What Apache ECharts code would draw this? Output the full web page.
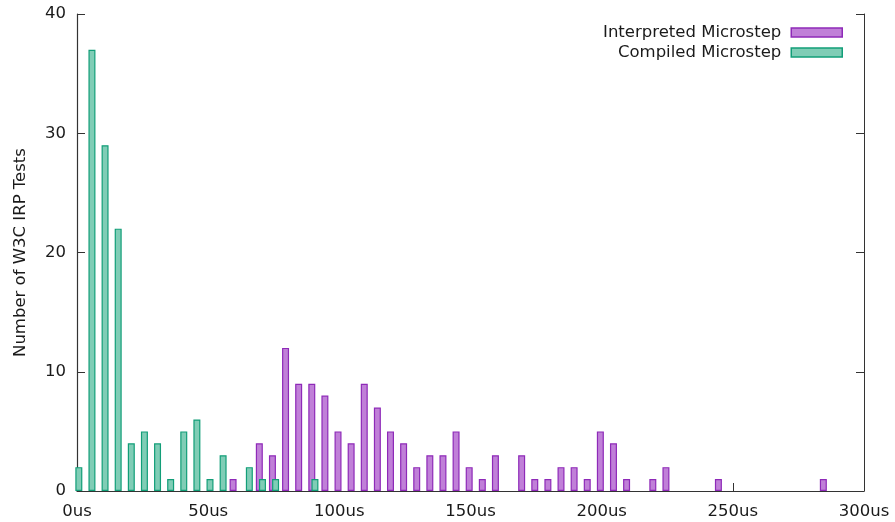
<!DOCTYPE html>
<html>
<head>
<meta charset="utf-8">
<script src="https://cdn.jsdelivr.net/npm/echarts@6/dist/echarts.min.js"></script>
<style>
  html, body { margin: 0; padding: 0; background: #fff; }
  #chart { width: 895px; height: 522px; }
</style>
</head>
<body>
<div id="chart"></div>
<script>
// Histogram bins (start of each 5us bucket)
const binStarts = [
  0, 5, 10, 15, 20, 25, 30, 35, 40, 45, 50, 55, 60, 65, 70, 75, 80, 85, 90, 95,
  100, 105, 110, 115, 120, 125, 130, 135, 140, 145, 150, 155, 160, 165, 170, 175, 180, 185, 190, 195,
  200, 205, 210, 215, 220, 225, 230, 235, 240, 245, 250, 255, 260, 265, 270, 275, 280, 285
];

// Number of tests falling in each bin
const interpretedCounts = [
  0, 0, 0, 0, 0, 0, 0, 0, 0, 0, 0, 0, 1, 0, 4, 3, 12, 9, 9, 8,
  5, 4, 9, 7, 5, 4, 2, 3, 3, 5, 2, 1, 3, 0, 3, 1, 1, 2, 2, 1,
  5, 4, 1, 0, 1, 2, 0, 0, 0, 1, 0, 0, 0, 0, 0, 0, 0, 1
];
const compiledCounts = [
  2, 37, 29, 22, 4, 5, 4, 1, 5, 6, 1, 3, 0, 2, 1, 1, 0, 0, 1, 0,
  0, 0, 0, 0, 0, 0, 0, 0, 0, 0, 0, 0, 0, 0, 0, 0, 0, 0, 0, 0,
  0, 0, 0, 0, 0, 0, 0, 0, 0, 0, 0, 0, 0, 0, 0, 0, 0, 0
];

const xTicks = [0, 50, 100, 150, 200, 250, 300];
const yTicks = [0, 10, 20, 30, 40];

const seriesNames = ['Interpreted Microstep', 'Compiled Microstep'];

// Each series is nudged a little along x so the two histograms sit side by side
const interpretedShift = -0.5;
const compiledShift = 0.7;

function toPoints(counts, shift) {
  const pts = [];
  counts.forEach((c, i) => {
    if (c > 0) pts.push([binStarts[i] + shift, c]);
  });
  return pts;
}

const FONT = 'DejaVu Sans';
const FS = 16.5;
const TEXT = '#1a1a1a';
const AXIS = '#333';

const chart = echarts.init(document.getElementById('chart'), null, { renderer: 'canvas' });

const purple = { fill: '#c080d8', stroke: '#8e2ab8' };
const green = { fill: '#80cdb6', stroke: '#129e78' };

chart.setOption({
  animation: false,
  backgroundColor: '#fff',
  grid: { left: 77, right: 31, top: 14, bottom: 31, containLabel: false },
  legend: {
    orient: 'vertical',
    right: 52,
    top: 24,
    padding: 0,
    align: 'right',
    itemWidth: 51,
    itemHeight: 9,
    itemGap: 3,
    icon: 'rect',
    textStyle: { fontFamily: FONT, fontSize: FS, color: TEXT, padding: [0, 5, 0, 0] },
    data: [
      { name: seriesNames[0], itemStyle: { color: purple.fill, borderColor: purple.stroke, borderWidth: 1.5 } },
      { name: seriesNames[1], itemStyle: { color: green.fill, borderColor: green.stroke, borderWidth: 1.5 } }
    ]
  },
  xAxis: {
    type: 'value',
    min: xTicks[0],
    max: xTicks[xTicks.length - 1],
    interval: xTicks[1] - xTicks[0],
    axisLine: { show: true, onZero: false, lineStyle: { color: AXIS, width: 1.2 } },
    axisTick: { show: true, inside: true, length: 8, lineStyle: { color: AXIS, width: 1 } },
    axisLabel: {
      fontFamily: FONT, fontSize: FS, color: TEXT, margin: 12,
      formatter: v => v + 'us'
    },
    splitLine: { show: false }
  },
  yAxis: [
    {
      type: 'value',
      min: yTicks[0],
      max: yTicks[yTicks.length - 1],
      interval: yTicks[1] - yTicks[0],
      name: 'Number of W3C IRP Tests',
      nameLocation: 'middle',
      nameRotate: 90,
      nameGap: 48,
      nameTextStyle: { fontFamily: FONT, fontSize: FS, color: TEXT },
      axisLine: { show: true, lineStyle: { color: AXIS, width: 1.2 } },
      axisTick: { show: true, inside: true, length: 8, lineStyle: { color: AXIS, width: 1 } },
      axisLabel: { fontFamily: FONT, fontSize: FS, color: TEXT, margin: 11 },
      splitLine: { show: false }
    },
    {
      type: 'value',
      position: 'right',
      min: yTicks[0],
      max: yTicks[yTicks.length - 1],
      interval: yTicks[1] - yTicks[0],
      axisLine: { show: true, lineStyle: { color: AXIS, width: 1 } },
      axisTick: { show: true, inside: true, length: 8, lineStyle: { color: AXIS, width: 1 } },
      axisLabel: { show: false },
      splitLine: { show: false }
    }
  ],
  series: [
    {
      name: seriesNames[0],
      type: 'bar',
      barWidth: 7,
      barGap: '-100%',
      data: toPoints(interpretedCounts, interpretedShift),
      itemStyle: { color: purple.fill, borderColor: purple.stroke, borderWidth: 1.2 }
    },
    {
      name: seriesNames[1],
      type: 'bar',
      barWidth: 7,
      barGap: '-100%',
      data: toPoints(compiledCounts, compiledShift),
      itemStyle: { color: green.fill, borderColor: green.stroke, borderWidth: 1.2 }
    }
  ]
});
</script>
</body>
</html>
